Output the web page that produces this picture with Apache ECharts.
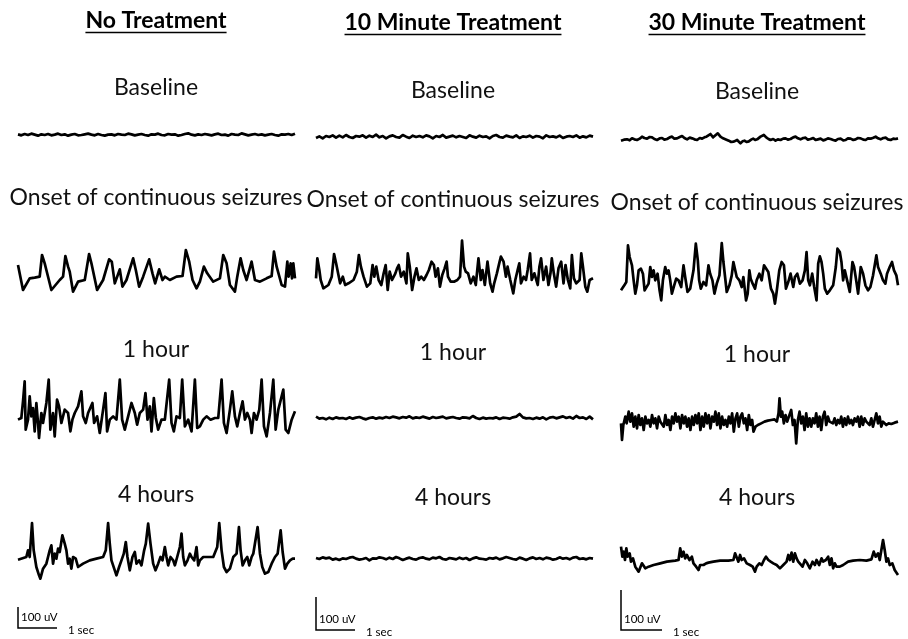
<!DOCTYPE html>
<html>
<head>
<meta charset="utf-8">
<script src="https://cdn.jsdelivr.net/npm/echarts@6/dist/echarts.min.js"></script>
<style>
html, body { margin: 0; padding: 0; background: #fff; }
#chart { width: 908px; height: 639px; }
</style>
</head>
<body>
<div id="chart"></div>
<script>
// column headers and row labels
var groups = ['No Treatment', '10 Minute Treatment', '30 Minute Treatment'];
var stages = ['Baseline', 'Onset of continuous seizures', '1 hour', '4 hours'];

// traces: [time sample, amplitude], amplitude in 1/3 px units (100 uV ~ 90)
var baseNone = [2,-1,3,0,4,1,-2,2,0,3,-1,1,4,0,2,-2,1,3,-1,0,2,4,1,-1,3,0,-2,1,2,-1,3,1,0,4,2,-1,1,3,0,-2,2,1,4,0,-1,3,1,2,-2,0,3,5,1,-1,2,0,3,1,-1,2,4,0,1,-2,3,1,0,5,2,-1,1,3,0,2,-1,1,3,0,-2,2,1,3,0,4];
var baseTen = [-3,2,-4,3,0,5,-2,4,-1,6,0,-3,3,1,5,-2,4,0,7,-1,3,-4,2,5,0,-2,6,1,-3,4,0,3,-1,5,2,-4,3,0,6,-2,1,4,-1,3,0,-3,5,1,-2,4,0,2,-4,3,6,0,-2,4,1,-1,5,-3,2,0,4,-2,3,1,-4,5,0,2,-1,4,-3,1,3,0,5,-2,2,-1,4,1];
var baseThirty = [[0,-2],[9,1],[18,2],[26,-1],[33,5],[40,2],[48,0],[56,4],[63,10],[70,6],[78,4],[86,9],[93,8],[100,3],[108,0],[116,5],[123,6],[130,1],[138,3],[146,8],[153,10],[160,4],[168,5],[176,9],[183,12],[190,6],[198,2],[206,7],[213,5],[220,2],[228,0],[236,6],[243,4],[250,8],[256,10],[262,14],[268,18],[276,8],[283,14],[290,20],[298,10],[304,6],[308,4],[316,1],[323,-2],[330,-6],[338,-5],[343,-1],[348,0],[353,-6],[358,-10],[364,-4],[370,-2],[376,-6],[383,-4],[390,1],[396,4],[402,0],[408,2],[413,7],[418,10],[423,14],[428,15],[432,9],[436,7],[442,3],[448,0],[456,3],[463,-2],[470,2],[478,0],[486,4],[493,5],[500,1],[508,3],[516,8],[523,10],[530,5],[538,2],[546,6],[553,7],[560,1],[568,3],[576,6],[583,0],[590,2],[598,4],[606,-1],[613,1],[620,5],[628,3],[636,0],[643,-2],[650,3],[658,4],[666,-1],[673,0],[680,5],[688,4],[696,0],[703,2],[710,6],[718,5],[726,1],[733,0],[740,5],[748,4],[756,7],[763,10],[770,5],[778,2],[786,6],[793,7],[800,2],[808,0],[816,4],[823,3],[830,5]];

var onsetNone = [[0,30],[15,-45],[35,-10],[50,-8],[65,-5],[72,60],[80,35],[85,15],[100,-45],[125,-15],[135,-5],[142,57],[150,25],[155,10],[165,-50],[180,-20],[200,-15],[213,63],[220,35],[237,-45],[255,-15],[273,47],[281,40],[290,-25],[305,17],[313,-35],[325,-15],[345,50],[353,15],[363,-35],[375,-5],[393,47],[403,5],[411,-25],[423,17],[433,-15],[440,-5],[455,-15],[475,-5],[493,-3],[503,75],[513,40],[523,-15],[535,-40],[545,-20],[557,25],[567,5],[585,-20],[605,-10],[615,60],[625,35],[635,-30],[650,-50],[657,-5],[667,50],[675,15],[685,-15],[700,40],[710,-15],[725,-20],[745,-10],[760,-3],[767,70],[775,25],[790,-30],[800,-35],[807,40],[811,-5],[817,35],[821,-10],[825,35],[830,-10]];
var onsetTen = [[0,-25],[4,35],[10,0],[14,-30],[22,-55],[37,-45],[47,-20],[54,48],[60,20],[67,-15],[72,-40],[80,-20],[87,-45],[97,-40],[112,-30],[122,-5],[128,45],[134,10],[142,-20],[152,-50],[162,-40],[169,15],[174,-20],[180,10],[187,-30],[195,-45],[202,-10],[208,15],[214,-60],[220,-5],[227,-30],[237,-10],[242,5],[247,15],[254,-20],[262,-5],[270,-40],[274,50],[280,10],[287,-60],[294,-20],[300,5],[307,-30],[314,-20],[322,-30],[330,-15],[337,0],[345,25],[352,15],[357,-20],[364,5],[370,-50],[377,-15],[384,5],[390,25],[394,-20],[402,-35],[412,-35],[422,-30],[430,-20],[436,88],[442,10],[447,-5],[454,-10],[462,-40],[470,-20],[477,-45],[485,35],[492,-30],[497,0],[504,-45],[512,25],[520,-40],[527,-65],[532,-40],[540,-10],[547,20],[552,40],[560,25],[567,-20],[572,10],[580,-30],[589,-70],[595,-30],[602,0],[607,20],[612,-40],[620,-20],[627,-30],[632,0],[639,50],[644,-30],[652,-10],[662,-45],[667,10],[672,35],[679,-30],[687,10],[694,-45],[700,-10],[704,35],[710,-10],[717,-50],[724,5],[732,25],[739,-40],[745,15],[752,-30],[759,-55],[764,45],[770,-25],[777,-40],[787,-30],[792,50],[797,10],[804,-50],[810,-65],[817,-30],[827,-25]];
var onsetThirty = [[0,-55],[10,-40],[16,-30],[21,80],[26,45],[33,20],[38,-25],[43,-65],[48,-40],[53,5],[60,10],[66,-5],[71,-55],[76,-50],[83,-35],[88,15],[93,-15],[98,5],[103,-25],[110,-5],[116,-55],[121,-85],[126,-25],[133,15],[138,-5],[143,5],[148,-25],[153,-65],[160,-40],[166,-20],[173,-25],[181,-45],[188,20],[193,-15],[200,-60],[208,-50],[218,5],[225,85],[231,35],[235,-25],[240,-50],[248,-30],[256,-40],[263,20],[268,-5],[275,-25],[281,-65],[288,-35],[296,-10],[303,87],[308,30],[313,-15],[318,-60],[326,-40],[333,-10],[338,30],[343,35],[348,-15],[356,-25],[363,-45],[368,-15],[376,-85],[381,-65],[386,5],[390,-20],[396,-35],[403,-50],[408,-25],[416,-5],[423,-25],[430,20],[436,25],[443,0],[451,-50],[458,-65],[463,-95],[468,-60],[476,5],[483,30],[490,20],[496,-50],[503,-30],[510,-5],[518,-45],[523,-15],[530,-5],[538,-35],[546,-25],[553,5],[558,60],[563,-25],[568,-40],[575,-5],[581,-45],[588,-85],[593,25],[598,47],[603,30],[608,-5],[613,-50],[620,-65],[628,-55],[638,-40],[646,15],[651,70],[658,60],[663,30],[668,-25],[673,5],[680,-25],[688,-60],[696,30],[701,15],[708,-30],[713,-65],[721,15],[728,-5],[735,-40],[743,-55],[750,-45],[758,-10],[768,50],[773,15],[781,-5],[788,-25],[795,-35],[800,-5],[808,15],[815,30],[821,5],[828,-10],[833,-40]];

var hourNone = [[0,-20],[10,-15],[15,35],[20,95],[23,-50],[30,-20],[35,50],[40,-10],[45,15],[50,-55],[55,30],[60,-30],[63,-75],[70,0],[75,-30],[85,30],[92,100],[97,-50],[105,0],[110,-70],[117,40],[123,20],[130,-30],[140,10],[150,0],[157,-55],[163,-20],[170,0],[180,20],[190,65],[195,-10],[203,-30],[210,0],[223,30],[228,-30],[237,-10],[245,-60],[255,10],[262,60],[267,-55],[275,-20],[285,-10],[295,-20],[305,100],[312,-20],[320,-50],[330,-10],[340,30],[350,0],[357,-35],[365,0],[375,10],[382,60],[388,-20],[395,20],[400,-55],[407,45],[413,-15],[420,-50],[430,-20],[440,-20],[453,100],[460,-30],[467,-55],[475,-10],[485,-15],[492,100],[500,-40],[510,-20],[520,-55],[530,100],[537,-45],[545,-40],[555,-20],[565,-10],[577,-20],[590,-15],[600,-15],[610,100],[617,-30],[625,-60],[635,10],[642,65],[650,-10],[657,-40],[665,0],[673,35],[680,-20],[687,0],[695,-20],[700,-60],[707,0],[715,-20],[723,10],[730,100],[737,-40],[745,-70],[755,0],[765,100],[772,-50],[780,10],[795,70],[802,-50],[810,-60],[820,-20],[830,5]];
var hourTen = [4,-2,0,-4,1,-3,2,-1,0,-3,2,-2,1,3,-1,-4,0,2,-2,1,-1,3,0,4,2,-1,3,1,5,-1,2,0,4,1,-2,3,0,2,4,-1,1,3,0,-2,2,1,-1,6,0,-3,1,-2,0,-1,2,-3,1,0,-2,2,4,12,2,-1,0,-3,1,-2,2,-4,1,3,-1,2,5,0,3,-2,6,0,2,-3,4,-4];
var hourThirty = [[0,-10],[3,-60],[7,-15],[13,10],[17,-10],[23,25],[28,-5],[33,20],[38,-20],[43,10],[48,-25],[53,15],[58,-15],[63,5],[68,-30],[73,10],[78,-10],[83,0],[88,-20],[93,15],[98,-10],[103,5],[108,-25],[113,10],[118,-5],[123,0],[128,-20],[133,15],[138,-15],[143,0],[148,-30],[153,10],[158,-10],[163,20],[168,-5],[173,10],[178,-25],[183,15],[188,-10],[193,10],[198,-20],[203,5],[208,-30],[213,10],[218,-15],[223,15],[228,-10],[233,20],[238,-30],[243,10],[248,-20],[253,20],[258,-10],[263,15],[268,-25],[273,10],[278,-5],[283,25],[288,-15],[293,20],[298,-25],[303,10],[308,-15],[313,0],[318,-20],[323,10],[328,-10],[333,20],[338,-35],[343,5],[348,20],[353,-20],[358,10],[363,20],[368,-10],[373,5],[378,-30],[383,15],[388,-15],[393,0],[397,-35],[403,-20],[410,-15],[420,-10],[430,-5],[440,-2],[450,0],[460,2],[467,-5],[472,20],[475,65],[479,10],[483,25],[488,-10],[493,15],[498,-5],[503,10],[510,30],[515,-15],[520,0],[525,-70],[530,0],[535,25],[540,-10],[545,10],[550,-30],[555,20],[560,-20],[565,5],[570,-20],[575,5],[580,-10],[585,20],[590,-20],[595,10],[600,-30],[605,10],[610,25],[615,-15],[620,10],[625,-5],[630,0],[635,-10],[640,5],[645,-15],[650,0],[655,-10],[660,10],[665,-20],[670,5],[675,-15],[680,10],[685,-10],[690,0],[695,-15],[700,5],[705,-5],[710,10],[715,-20],[720,10],[725,-15],[730,5],[735,-5],[740,0],[745,-15],[750,5],[755,-20],[760,0],[765,20],[770,-10],[775,10],[780,-20],[785,-5],[790,0],[795,-15],[802,-10],[810,-12],[820,-8],[830,-5]];

var fourNone = [[0,-23],[25,-15],[30,5],[35,-15],[42,87],[47,5],[55,-45],[63,-70],[67,-80],[75,-50],[85,-35],[90,-15],[95,5],[100,20],[105,-35],[110,-5],[115,-20],[120,10],[125,0],[133,50],[140,25],[145,5],[150,-35],[155,-20],[160,-50],[165,-15],[173,-20],[180,-45],[185,-40],[195,-35],[215,-25],[235,-20],[255,-15],[263,5],[270,87],[275,25],[280,-25],[290,-55],[295,-70],[303,-45],[310,-25],[317,-5],[323,30],[328,-15],[335,-55],[343,-15],[350,0],[355,-35],[363,-25],[370,-40],[378,5],[383,25],[390,85],[397,25],[405,-35],[412,-55],[420,-35],[427,-15],[433,-25],[440,15],[445,-15],[450,-40],[457,-15],[465,-25],[470,-40],[477,-15],[485,15],[490,55],[495,-15],[500,-40],[508,-25],[515,-5],[520,-15],[528,-25],[535,15],[540,-40],[545,-25],[555,-15],[570,-15],[585,-15],[597,15],[603,87],[610,5],[617,-45],[625,-60],[635,-50],[645,-15],[655,-5],[662,75],[667,5],[673,-40],[680,-25],[687,-15],[693,-40],[700,-15],[705,-5],[718,75],[725,-5],[732,-45],[740,-65],[750,-60],[760,-35],[770,-15],[778,-5],[787,65],[793,0],[800,-50],[807,-35],[815,-25],[823,-20],[830,-20]];
var fourTen = [3,0,5,2,4,-2,1,-3,2,0,4,6,1,-2,0,3,-4,2,1,5,3,-1,4,0,6,2,-3,1,4,0,-2,3,5,1,-1,4,2,6,0,-2,3,1,-1,4,0,3,-3,2,5,1,0,-2,3,1,4,-1,2,6,3,0,-2,4,1,-3,2,5,0,3,-1,4,2,-2,0,5,1,3,-1,4,6,0,2,-1,3,1];
var fourThirty = [[0,40],[4,10],[8,25],[12,0],[16,35],[20,10],[26,20],[30,-5],[36,5],[43,-20],[48,-25],[53,-35],[58,-30],[63,-10],[68,-5],[73,-25],[83,-20],[98,-15],[118,-10],[138,-5],[163,-2],[173,0],[178,35],[183,10],[188,25],[193,5],[198,15],[206,0],[213,10],[218,-10],[226,-20],[233,-30],[238,-15],[248,-15],[256,-10],[263,-8],[278,-5],[298,-2],[323,-2],[338,0],[343,20],[348,25],[353,-5],[358,15],[363,0],[370,5],[378,-10],[388,-15],[396,-20],[403,-35],[408,-20],[416,-10],[423,-15],[430,0],[436,10],[443,0],[450,-5],[458,-10],[468,-15],[478,-25],[488,-15],[498,-5],[503,15],[508,0],[513,22],[518,-5],[523,20],[528,5],[533,-5],[538,-10],[546,-20],[553,0],[560,-10],[568,-25],[576,-5],[583,-15],[588,0],[596,-15],[603,5],[608,-5],[616,0],[623,10],[628,-15],[633,5],[638,-25],[643,-10],[648,-20],[658,-20],[668,-15],[683,-5],[698,-2],[718,0],[738,-2],[753,2],[760,25],[766,10],[773,20],[778,0],[783,30],[788,60],[793,30],[798,-5],[803,5],[808,-15],[816,-10],[823,-30],[828,-35],[833,-45]];

// uniform-step samples -> pairs
function toPairs(vals) {
	return vals.map(function (v, i) { return [i * 10, v]; });
}

// rows x columns
var traceGrid = [
	[toPairs(baseNone), toPairs(baseTen), baseThirty],
	[onsetNone, onsetTen, onsetThirty],
	[hourNone, toPairs(hourTen), hourThirty],
	[fourNone, toPairs(fourTen), fourThirty]
];

// layout
var colLeft = [18, 316, 621];
var colMid = [156, 453, 757];
var traceW = 277;
var traceH = 80;
var traceMid = [[135, 137, 140], [275, 270, 272], [413, 418, 420], [552, 559, 560]];
var labelY = [[88, 91, 92], [198, 200, 203], [350, 353, 355], [495, 498, 498]];
var headY = [21, 23, 23];

var FONT = 'Lato, "Open Sans", sans-serif';

var chart = echarts.init(document.getElementById('chart'));

var grids = [], xAxes = [], yAxes = [], series = [];
traceGrid.forEach(function (row, r) {
	row.forEach(function (data, c) {
		var k = grids.length;
		grids.push({
			left: colLeft[c],
			top: traceMid[r][c] - traceH / 2,
			width: traceW,
			height: traceH
		});
		xAxes.push({ type: 'value', gridIndex: k, min: 0, max: 'dataMax', show: false });
		yAxes.push({ type: 'value', gridIndex: k, min: -120, max: 120, show: false });
		series.push({
			type: 'line',
			xAxisIndex: k,
			yAxisIndex: k,
			data: data,
			showSymbol: false,
			silent: true,
			lineStyle: { color: '#000', width: 2.7, join: 'round' }
		});
	});
});

// text width for underline
var measure = document.createElement('canvas').getContext('2d');
function textWidth(s, font) {
	measure.font = font;
	return measure.measureText(s).width;
}

var graphics = [];
groups.forEach(function (g, c) {
	var headFont = 'bold 23px ' + FONT;
	var w = textWidth(g, headFont);
	graphics.push({
		type: 'text',
		style: { text: g, x: colMid[c], y: headY[c], font: headFont, fill: '#000', align: 'center', verticalAlign: 'middle' }
	});
	graphics.push({
		type: 'line',
		shape: { x1: colMid[c] - w / 2, y1: headY[c] + 11.5, x2: colMid[c] + w / 2, y2: headY[c] + 11.5 },
		style: { stroke: '#000', lineWidth: 1.5 }
	});
	stages.forEach(function (s, r) {
		graphics.push({
			type: 'text',
			style: { text: s, x: colMid[c], y: labelY[r][c], font: '23px ' + FONT, fill: '#111', align: 'center', verticalAlign: 'middle' }
		});
	});
});

// scale bars (100 uV / 1 sec)
var barX = [18, 316, 621];
var barTop = [607, 597, 590];
var barBottom = [628, 630, 630];
var barLen = [39, 39, 41];
barX.forEach(function (x, c) {
	graphics.push({
		type: 'polyline',
		shape: { points: [[x, barTop[c]], [x, barBottom[c]], [x + barLen[c], barBottom[c]]] },
		style: { stroke: '#000', lineWidth: 1.5, fill: null }
	});
	graphics.push({
		type: 'text',
		style: { text: '100 uV', x: x + 3, y: barBottom[c] - 11, font: '11.5px ' + FONT, fill: '#000', align: 'left', verticalAlign: 'middle' }
	});
	graphics.push({
		type: 'text',
		style: { text: '1 sec', x: x + barLen[c] + 11, y: barBottom[c] + 2, font: '11.5px ' + FONT, fill: '#000', align: 'left', verticalAlign: 'middle' }
	});
});

chart.setOption({
	animation: false,
	backgroundColor: '#fff',
	grid: grids,
	xAxis: xAxes,
	yAxis: yAxes,
	series: series,
	graphic: graphics
});
</script>
</body>
</html>
